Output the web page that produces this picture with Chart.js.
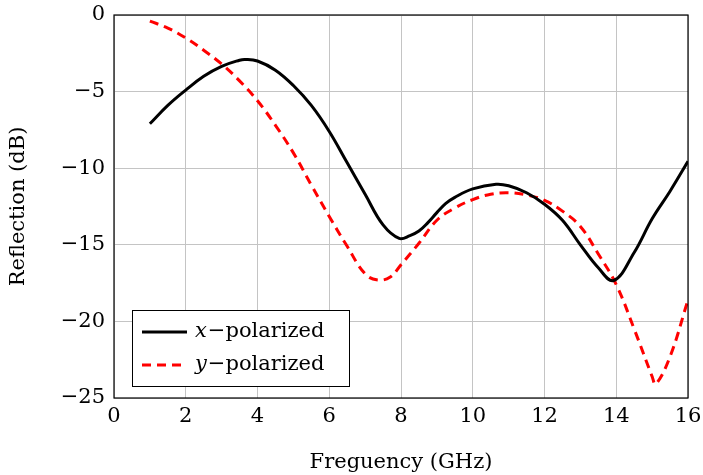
<!DOCTYPE html>
<html>
<head>
<meta charset="utf-8">
<script src="https://cdn.jsdelivr.net/npm/chart.js@4.4.0/dist/chart.umd.min.js"></script>
<style>
  html, body { margin: 0; padding: 0; background: #fff; }
  #wrap { width: 703px; height: 475px; }
</style>
</head>
<body>
<div id="wrap"><canvas id="c" width="703" height="475"></canvas></div>
<script>
// values
var xFreq = [1, 1.5, 2, 2.5, 3, 3.5, 3.65, 4, 4.5, 5, 5.5, 6, 6.5, 7, 7.5, 7.95, 8.25, 8.5, 8.75, 9, 9.25, 9.5, 10, 10.65, 11, 11.5, 12, 12.5, 13, 13.5, 13.93, 14.5, 15, 15.5, 16];
var xPol  = [-7.1, -5.9, -4.9, -4.0, -3.35, -2.95, -2.9, -3.0, -3.6, -4.6, -5.9, -7.6, -9.65, -11.7, -13.7, -14.58, -14.4, -14.1, -13.55, -12.9, -12.3, -11.9, -11.35, -11.05, -11.15, -11.6, -12.35, -13.4, -15.0, -16.5, -17.33, -15.5, -13.3, -11.5, -9.55];

var yFreq = [1, 1.5, 2, 2.5, 3, 3.5, 4, 4.5, 5, 5.5, 6, 6.5, 7, 7.35, 7.7, 8, 8.5, 9, 9.5, 10, 10.5, 11, 11.5, 12, 12.5, 13, 13.5, 14, 14.5, 15, 15.1, 15.5, 16];
var yPol  = [-0.4, -0.85, -1.5, -2.3, -3.2, -4.3, -5.6, -7.2, -9.0, -11.1, -13.15, -15.1, -16.9, -17.3, -17.1, -16.3, -14.9, -13.4, -12.6, -12.05, -11.7, -11.6, -11.75, -12.1, -12.8, -13.8, -15.6, -17.6, -20.5, -23.6, -24.1, -22.3, -18.6];

var xTicks = [0, 2, 4, 6, 8, 10, 12, 14, 16];
var yTicks = [-25, -20, -15, -10, -5, 0];

var serif = '"DejaVu Serif", "Liberation Serif", serif';

function toPoints(xs, ys) {
    return xs.map(function (v, i) { return { x: v, y: ys[i] }; });
}

function fmt(v) {
    return v < 0 ? '\u2212' + Math.abs(v) : String(v);
}

// legend box drawn inside the plot, lower left
var insideLegend = {
    id: 'insideLegend',
    afterDraw: function (chart) {
        var ctx = chart.ctx;
        var a = chart.chartArea;
        var bx = a.left + 18, by = a.bottom - 88, bw = 217, bh = 76;
        ctx.save();
        ctx.fillStyle = '#fff';
        ctx.fillRect(bx, by, bw, bh);
        ctx.strokeStyle = '#000';
        ctx.lineWidth = 1;
        ctx.strokeRect(bx + 0.5, by + 0.5, bw, bh);
        chart.data.datasets.forEach(function (ds, i) {
            var ly = by + 22 + i * 33;
            ctx.beginPath();
            ctx.strokeStyle = ds.borderColor;
            ctx.lineWidth = ds.borderWidth;
            ctx.setLineDash(ds.borderDash || []);
            ctx.moveTo(bx + 10, ly);
            ctx.lineTo(bx + 55, ly);
            ctx.stroke();
            ctx.setLineDash([]);
            ctx.fillStyle = '#000';
            ctx.textBaseline = 'middle';
            ctx.font = 'italic 21px ' + serif;
            ctx.fillText(ds.varName, bx + 63, ly);
            var w = ctx.measureText(ds.varName).width;
            ctx.font = '21px ' + serif;
            ctx.fillText('\u2212polarized', bx + 63 + w + 1, ly);
        });
        ctx.restore();
    }
};

// black frame round the plot
var frame = {
    id: 'frame',
    afterDatasetsDraw: function (chart) {
        var a = chart.chartArea;
        var ctx = chart.ctx;
        ctx.save();
        ctx.strokeStyle = '#000';
        ctx.lineWidth = 1.2;
        ctx.strokeRect(a.left, a.top, a.right - a.left, a.bottom - a.top);
        ctx.restore();
    }
};

var ctx = document.getElementById('c').getContext('2d');
var chart = new Chart(ctx, {
    type: 'line',
    data: {
        datasets: [{
            label: 'x-polarized',
            varName: 'x',
            data: toPoints(xFreq, xPol),
            borderColor: '#000',
            borderWidth: 3,
            pointRadius: 0,
            tension: 0.4,
            fill: false
        }, {
            label: 'y-polarized',
            varName: 'y',
            data: toPoints(yFreq, yPol),
            borderColor: '#ff0000',
            borderWidth: 3,
            borderDash: [9, 6],
            pointRadius: 0,
            tension: 0.4,
            fill: false
        }]
    },
    options: {
        responsive: false,
        animation: false,
        layout: {
            padding: { left: 0, right: 15, top: 15, bottom: 0 }
        },
        plugins: {
            legend: { display: false },
            tooltip: { enabled: false }
        },
        scales: {
            x: {
                type: 'linear',
                min: 0,
                max: 16,
                afterBuildTicks: function (axis) {
                    axis.ticks = xTicks.map(function (v) { return { value: v }; });
                },
                afterFit: function (axis) {
                    axis.height = 77;
                    axis.paddingLeft = 0;
                    axis.paddingRight = 0;
                },
                grid: {
                    color: '#c4c4c4',
                    lineWidth: 1,
                    drawTicks: false
                },
                border: { display: false },
                ticks: {
                    color: '#000',
                    padding: 6,
                    maxRotation: 0,
                    font: { family: serif, size: 21 },
                    callback: function (v) { return fmt(v); }
                },
                title: {
                    display: true,
                    text: 'Freguency (GHz)',
                    color: '#000',
                    font: { family: serif, size: 21 },
                    padding: { top: 12, bottom: 0 }
                }
            },
            y: {
                type: 'linear',
                min: -25,
                max: 0,
                afterBuildTicks: function (axis) {
                    axis.ticks = yTicks.map(function (v) { return { value: v }; });
                },
                afterFit: function (axis) {
                    axis.width = 114;
                    axis.paddingTop = 0;
                    axis.paddingBottom = 0;
                },
                grid: {
                    color: '#c4c4c4',
                    lineWidth: 1,
                    drawTicks: false
                },
                border: { display: false },
                ticks: {
                    color: '#000',
                    padding: 9,
                    font: { family: serif, size: 21 },
                    callback: function (v) { return fmt(v); }
                },
                title: {
                    display: true,
                    text: 'Reflection (dB)',
                    color: '#000',
                    font: { family: serif, size: 21 },
                    padding: { top: 6, bottom: 4 }
                }
            }
        }
    },
    plugins: [frame, insideLegend]
});
</script>
</body>
</html>
